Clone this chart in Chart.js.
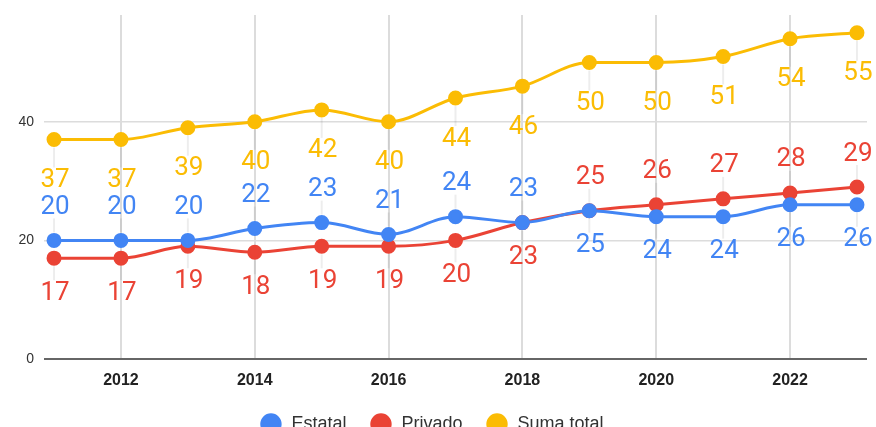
<!DOCTYPE html>
<html>
<head>
<meta charset="utf-8">
<script src="https://cdn.jsdelivr.net/npm/chart.js@4.4.1/dist/chart.umd.min.js"></script>
<style>
  html, body { margin: 0; padding: 0; background: #fff; }
  #wrap { width: 876px; height: 427px; overflow: hidden; }
</style>
</head>
<body>
<div id="wrap"><canvas id="chart" width="876" height="427"></canvas></div>
<script>
// datos
const years = [2011, 2012, 2013, 2014, 2015, 2016, 2017, 2018, 2019, 2020, 2021, 2022, 2023];
const estatal = [20, 20, 20, 22, 23, 21, 24, 23, 25, 24, 24, 26, 26];
const privado = [17, 17, 19, 18, 19, 19, 20, 23, 25, 26, 27, 28, 29];
const sumaTotal = [37, 37, 39, 40, 42, 40, 44, 46, 50, 50, 51, 54, 55];
const yTicks = [0, 20, 40];

// dónde va la etiqueta de cada punto: 'a' arriba, 'b' abajo
const posEstatal = ['a','a','a','a','a','a','a','a','b','b','b','b','b'];
const posPrivado = ['b','b','b','b','b','b','b','b','a','a','a','a','a'];
const posSuma = years.map(() => 'b');

const BLUE = '#4285F4', RED = '#EA4335', YELLOW = '#FBBC04';

function toPoints(values) {
    return years.map((y, i) => ({ x: y, y: values[i] }));
}

function makeDataset(label, values, color, pos, gap) {
    return {
        label: label,
        data: toPoints(values),
        borderColor: color,
        backgroundColor: color,
        borderWidth: 3,
        pointRadius: 6,
        pointHoverRadius: 6,
        cubicInterpolationMode: 'monotone',
        labelPos: pos,
        labelGap: gap
    };
}

// etiquetas de valores encima/debajo de los puntos
const valueLabels = {
    id: 'valueLabels',
    afterDatasetsDraw(chart) {
        const ctx = chart.ctx;
        ctx.save();
        ctx.font = '26px Roboto, "Noto Sans", sans-serif';
        ctx.textAlign = 'center';
        ctx.textBaseline = 'middle';
        chart.data.datasets.forEach((ds, di) => {
            const meta = chart.getDatasetMeta(di);
            meta.data.forEach((pt, i) => {
                const up = ds.labelPos[i] === 'a';
                const ly = up ? pt.y - ds.labelGap : pt.y + ds.labelGap;
                // línea guía tenue
                ctx.strokeStyle = 'rgba(0,0,0,0.07)';
                ctx.lineWidth = 2;
                ctx.beginPath();
                if (up) { ctx.moveTo(pt.x, pt.y - 8); ctx.lineTo(pt.x, ly + 12); }
                else { ctx.moveTo(pt.x, pt.y + 8); ctx.lineTo(pt.x, ly - 12); }
                ctx.stroke();
                ctx.fillStyle = ds.borderColor;
                ctx.fillText(String(ds.data[i].y), pt.x + 1, ly + 1);
            });
        });
        ctx.restore();
    }
};

new Chart(document.getElementById('chart'), {
    type: 'line',
    data: {
        datasets: [
            makeDataset('Estatal', estatal, BLUE, posEstatal, 34),
            makeDataset('Privado', privado, RED, posPrivado, 34),
            makeDataset('Suma total', sumaTotal, YELLOW, posSuma, 40)
        ]
    },
    options: {
        responsive: false,
        animation: false,
        layout: { padding: { top: 15, right: 8, left: 0, bottom: -16 } },
        scales: {
            x: {
                type: 'linear',
                min: years[0] - 0.15,
                max: years[years.length - 1] + 0.15,
                afterBuildTicks: (s) => { s.ticks = years.filter(y => y % 2 === 0).map(v => ({ value: v })); },
                ticks: {
                    callback: (v) => String(v),
                    color: '#222',
                    font: { family: '"Liberation Sans", Arial, sans-serif', size: 16, weight: 'bold' },
                    padding: 12,
                    maxRotation: 0
                },
                grid: { color: '#dcdcdc', lineWidth: 2, drawTicks: false },
                border: { display: false },
                afterFit: (s) => { s.height = 28; }
            },
            y: {
                min: 0,
                max: 58,
                afterBuildTicks: (s) => { s.ticks = yTicks.map(v => ({ value: v })); },
                ticks: {
                    color: '#333',
                    font: { family: '"Liberation Sans", Arial, sans-serif', size: 14, lineHeight: 0.3 },
                    padding: 10
                },
                grid: {
                    color: (c) => c.tick && c.tick.value === 0 ? '#666' : '#dcdcdc',
                    lineWidth: (c) => c.tick && c.tick.value === 0 ? 2 : 1.5,
                    drawTicks: false
                },
                border: { display: false },
                afterFit: (s) => { s.width = 44; }
            }
        },
        plugins: {
            legend: {
                position: 'bottom',
                labels: {
                    usePointStyle: true,
                    pointStyle: 'circle',
                    boxHeight: 13,
                    boxWidth: 13,
                    padding: 28,
                    color: '#333',
                    font: { family: '"Liberation Sans", Arial, sans-serif', size: 18 },
                    generateLabels: (chart) => Chart.defaults.plugins.legend.labels.generateLabels(chart)
                        .map(item => Object.assign(item, { text: ' ' + item.text }))
                }
            },
            tooltip: { enabled: false }
        }
    },
    plugins: [valueLabels]
});
</script>
</body>
</html>
